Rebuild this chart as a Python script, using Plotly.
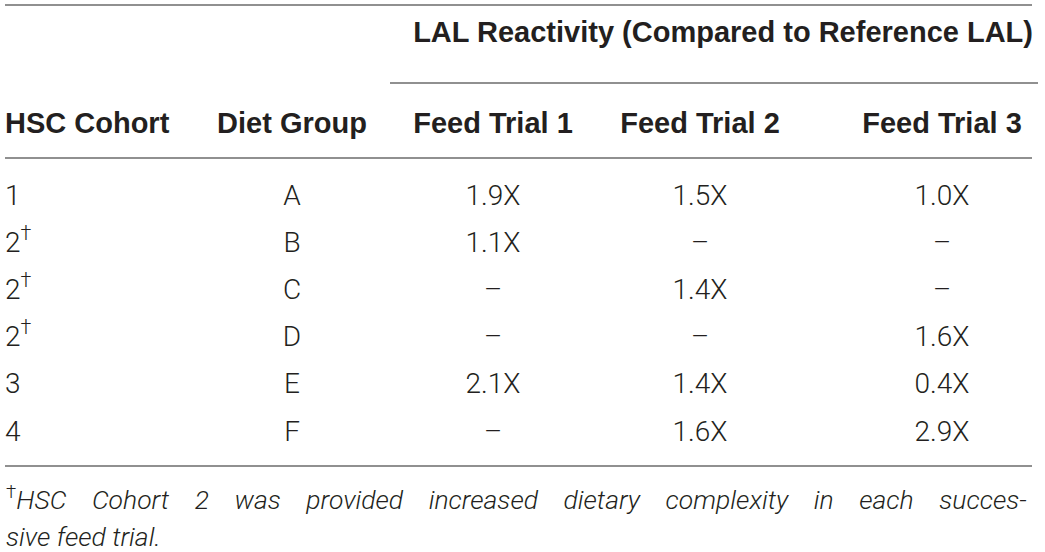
import plotly.graph_objects as go

# table contents
cohorts = ["1", "2<sup>†</sup>", "2<sup>†</sup>", "2<sup>†</sup>", "3", "4"]
diet_groups = ["A", "B", "C", "D", "E", "F"]
trial1 = ["1.9X", "1.1X", "–", "–", "2.1X", "–"]
trial2 = ["1.5X", "–", "1.4X", "–", "1.4X", "1.6X"]
trial3 = ["1.0X", "–", "–", "1.6X", "0.4X", "2.9X"]
col_headers = ["HSC Cohort", "Diet Group", "Feed Trial 1", "Feed Trial 2", "Feed Trial 3"]
span_header = "LAL Reactivity (Compared to Reference LAL)"
footnote_1 = "HSC Cohort 2 was provided increased dietary complexity in each succes-"
footnote_2 = "sive feed trial."

W, H = 1045, 552
TEXT = "#231f20"
RULE = "#6b6b6b"
BODY_FONT = dict(family="Roboto", size=28, color=TEXT, weight=300)
HEAD_FONT = dict(family="Liberation Sans", size=29, color=TEXT, weight="bold")
NOTE_FONT = dict(family="Roboto", size=26.5, color=TEXT, weight=300)

col_x = [5, 292, 493, 700, 942]
row_y = [197.5 + 47.2 * i for i in range(len(cohorts))]
head_y = 125.5

fig = go.Figure()

# body cells
columns = [cohorts, diet_groups, trial1, trial2, trial3]
for i, col in enumerate(columns):
    fig.add_trace(go.Scatter(x=[col_x[i]] * len(col),
                             y=row_y,
                             mode="text",
                             text=col,
                             textposition="middle right" if i == 0 else "middle center",
                             textfont=BODY_FONT,
                             hoverinfo="skip",
                             showlegend=False))

# column headers
fig.add_trace(go.Scatter(x=[col_x[0]], y=[head_y], mode="text", text=[col_headers[0]],
                         textposition="middle right", textfont=HEAD_FONT,
                         hoverinfo="skip", showlegend=False))
fig.add_trace(go.Scatter(x=col_x[1:], y=[head_y] * 4, mode="text", text=col_headers[1:],
                         textposition="middle center", textfont=HEAD_FONT,
                         hoverinfo="skip", showlegend=False))
fig.add_trace(go.Scatter(x=[1033], y=[35], mode="text", text=[span_header],
                         textposition="middle left", textfont=HEAD_FONT,
                         hoverinfo="skip", showlegend=False))

# rules
for y0, xa, xb in [(5, 5, 1032), (83, 390, 1038), (158, 5, 1032), (466, 5, 1032)]:
    fig.add_shape(type="line", x0=xa, x1=xb, y0=y0, y1=y0, xref="x", yref="y",
                  line=dict(color=RULE, width=1.4))

# footnote, roughly justified on the first line
gap = "\u00a0" * 4
fig.add_annotation(x=4, y=498, xref="x", yref="y", xanchor="left", yanchor="middle",
                   text="<sup>†</sup><i>" + gap.join(footnote_1.split(" ")) + "</i>",
                   showarrow=False, font=NOTE_FONT)
fig.add_annotation(x=4, y=536, xref="x", yref="y", xanchor="left", yanchor="middle",
                   text="<i>" + footnote_2 + "</i>",
                   showarrow=False, font=NOTE_FONT)

fig.update_xaxes(range=[0, W], visible=False, fixedrange=True)
fig.update_yaxes(range=[H, 0], visible=False, fixedrange=True)
fig.update_layout(width=W, height=H, margin=dict(l=0, r=0, t=0, b=0),
                  paper_bgcolor="white", plot_bgcolor="white")

fig.write_html("out.html", config={"displayModeBar": False},
               post_script="document.body.style.margin='0px';")
